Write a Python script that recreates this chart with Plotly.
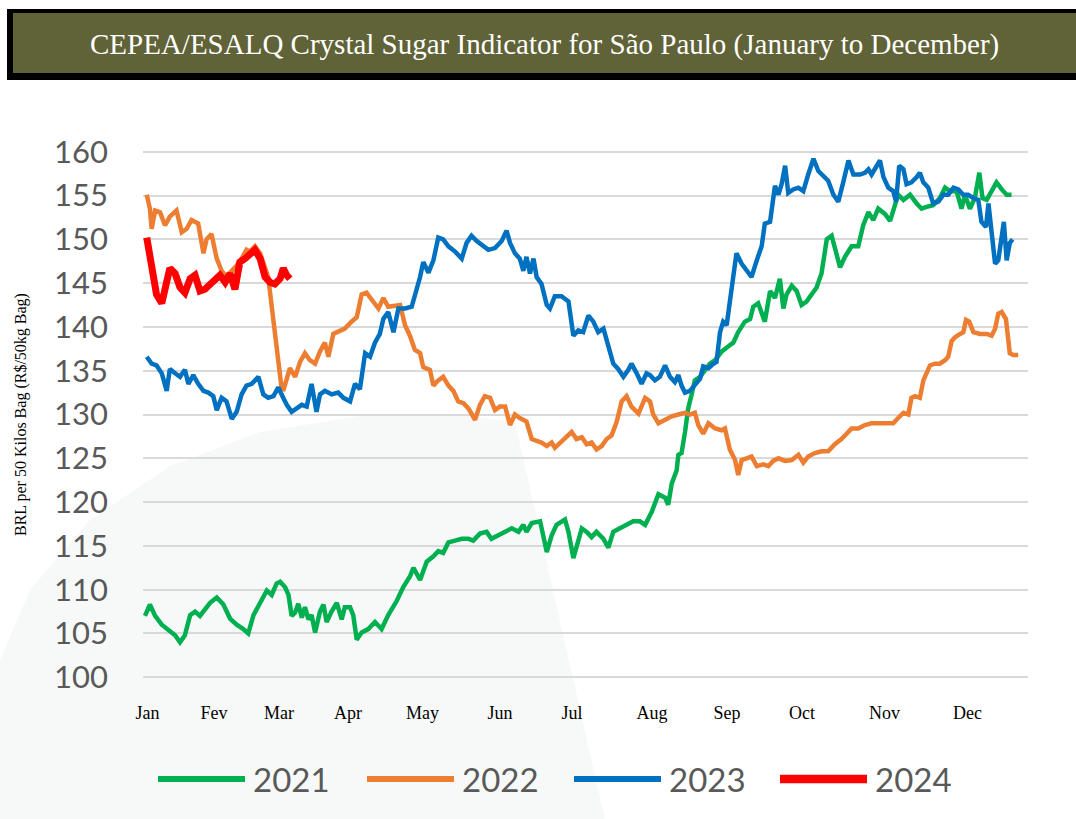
import plotly.graph_objects as go

# CEPEA/ESALQ crystal sugar indicator, Sao Paulo
# x = trading day of the year (0 = first January session), y = BRL per 50 kg bag

x_2021 = [0.0, 1.4, 2.9, 4.8, 6.7, 8.6, 10.0, 11.4, 12.9, 14.3,
          15.7, 17.1, 18.6, 20.5, 22.4, 24.3, 26.2, 28.1, 29.5, 31.0,
          32.9, 34.8, 36.2, 37.6, 38.6, 40.0, 41.0, 41.9, 42.9, 43.8,
          44.8, 45.7, 46.7, 47.6, 48.6, 50.0, 51.0, 51.9, 53.3, 54.8,
          56.2, 57.1, 58.6, 59.5, 60.5, 61.9, 63.8, 65.7, 67.6, 69.5,
          71.9, 73.8, 75.7, 76.7, 78.6, 80.5, 82.4, 83.8, 85.2, 86.7,
          88.6, 90.5, 92.4, 93.8, 95.7, 97.6, 99.0, 101.0, 102.9, 104.8,
          106.7, 108.1, 109.0, 110.5, 112.9, 114.8, 116.2, 117.6, 120.0, 121.0,
          122.4, 123.3, 124.8, 126.2, 127.6, 129.0, 131.0, 132.4, 133.8, 135.7,
          137.6, 139.5, 141.4, 142.9, 144.8, 146.7, 148.6, 149.5, 150.5, 151.9,
          152.4, 153.3, 154.3, 155.2, 156.2, 157.1, 158.6, 160.0, 161.4, 162.9,
          164.8, 166.7, 168.1, 169.5, 171.4, 172.9, 173.8, 175.2, 176.2, 177.1,
          178.6, 180.0, 181.4, 182.4, 183.3, 184.8, 186.2, 187.6, 189.0, 190.5,
          191.9, 193.3, 194.8, 196.2, 197.6, 198.6, 200.0, 201.9, 203.8, 205.2,
          206.7, 208.1, 209.5, 211.4, 212.9, 214.3, 215.2, 216.7, 218.6, 220.5,
          221.9, 223.3, 225.2, 227.1, 228.6, 230.0, 231.9, 233.3, 234.3, 235.7,
          237.1, 238.4, 239.3, 240.5, 241.9, 243.3, 244.8, 246.2, 247.6]
y_2021 = [107.0, 108.3, 107.0, 106.0, 105.4, 104.8, 104.0, 104.8, 107.1, 107.5,
          107.0, 107.7, 108.5, 109.1, 108.3, 106.7, 106.0, 105.5, 105.0, 107.1,
          108.6, 109.9, 109.4, 110.7, 110.9, 110.3, 109.4, 107.0, 107.4, 108.4,
          106.8, 108.0, 106.6, 107.1, 105.1, 107.5, 108.3, 106.3, 107.5, 108.5,
          106.6, 108.0, 108.0, 107.1, 104.3, 105.1, 105.5, 106.3, 105.5, 107.1,
          108.7, 110.3, 111.5, 112.5, 111.1, 113.2, 113.8, 114.4, 114.2, 115.4,
          115.6, 115.8, 115.8, 115.6, 116.4, 116.6, 115.8, 116.2, 116.6, 117.0,
          116.6, 117.4, 116.6, 117.6, 117.8, 114.3, 116.2, 117.4, 118.0, 116.6,
          113.6, 115.0, 117.0, 116.6, 116.0, 116.6, 115.8, 114.8, 116.6, 117.0,
          117.4, 117.8, 117.8, 117.4, 118.9, 120.9, 120.5, 119.7, 122.1, 123.6,
          125.4, 125.6, 128.0, 130.7, 132.3, 133.9, 134.3, 135.1, 135.8, 136.2,
          137.2, 137.8, 138.2, 139.4, 140.6, 140.9, 142.3, 142.7, 141.7, 140.6,
          144.1, 143.3, 145.5, 142.1, 143.7, 144.7, 144.1, 142.5, 142.9, 143.7,
          144.5, 146.1, 150.0, 150.4, 148.4, 146.8, 148.0, 149.2, 149.2, 151.6,
          153.1, 152.2, 153.5, 152.9, 152.1, 153.9, 155.1, 154.5, 155.1, 154.1,
          153.5, 153.7, 153.9, 154.7, 155.9, 155.5, 155.5, 153.5, 155.1, 153.5,
          154.7, 157.6, 154.7, 154.5, 155.5, 156.5, 155.7, 155.1, 155.1]

x_2022 = [0.5, 1.4, 1.9, 2.9, 4.3, 5.7, 7.1, 9.0, 10.5, 11.9,
          13.3, 15.2, 16.7, 17.6, 19.0, 20.5, 21.9, 23.3, 24.8, 26.2,
          27.6, 29.0, 30.0, 31.4, 32.9, 34.3, 35.2, 37.1, 39.0, 39.5,
          40.5, 41.4, 42.9, 44.3, 45.7, 47.1, 48.6, 50.0, 51.4, 52.4,
          53.8, 55.2, 57.1, 59.0, 60.5, 61.9, 63.3, 64.8, 66.7, 68.1,
          69.5, 72.9, 74.3, 75.7, 77.1, 78.6, 79.5, 81.4, 82.4, 83.8,
          85.2, 86.7, 88.1, 89.5, 91.0, 92.4, 94.3, 95.7, 97.1, 98.6,
          100.0, 101.4, 102.9, 104.3, 105.7, 107.1, 109.0, 110.5, 111.9, 113.3,
          114.8, 116.2, 117.1, 118.6, 120.0, 121.9, 123.3, 124.8, 126.2, 127.6,
          129.0, 130.5, 131.9, 133.3, 134.8, 136.2, 137.6, 139.0, 141.0, 142.9,
          144.3, 145.2, 146.7, 148.6, 150.5, 152.4, 154.3, 155.7, 157.1, 158.1,
          159.5, 161.0, 162.9, 164.8, 165.7, 167.1, 168.6, 169.5, 170.5, 171.9,
          173.3, 174.8, 176.7, 178.1, 179.5, 181.0, 182.9, 184.8, 186.7, 188.1,
          189.5, 191.4, 193.3, 195.2, 197.1, 199.0, 200.5, 201.9, 203.8, 205.7,
          207.6, 209.5, 211.9, 213.8, 215.2, 216.7, 218.1, 219.0, 220.0, 221.4,
          222.4, 223.3, 224.3, 225.7, 227.1, 228.6, 229.5, 230.5, 231.4, 232.9,
          233.8, 234.6, 235.5, 236.7, 238.6, 240.5, 241.9, 242.9, 243.8, 244.8,
          246.0, 247.1, 248.1, 249.5]
y_2022 = [155.1, 153.5, 151.2, 153.3, 153.1, 151.6, 152.6, 153.3, 150.8, 151.2,
          152.2, 151.8, 148.4, 150.0, 150.6, 147.8, 146.4, 145.7, 146.4, 147.0,
          147.8, 148.8, 148.6, 149.2, 148.4, 146.8, 145.7, 139.4, 133.1, 132.7,
          133.9, 135.3, 134.3, 136.0, 137.0, 136.2, 135.8, 137.2, 138.2, 136.6,
          139.2, 139.4, 139.8, 140.6, 141.1, 143.7, 143.9, 143.1, 142.1, 143.3,
          142.3, 142.5, 140.2, 139.0, 137.4, 137.0, 135.4, 135.1, 133.3, 133.9,
          134.3, 133.3, 132.7, 131.5, 131.3, 130.7, 129.4, 131.1, 132.1, 131.9,
          130.5, 130.9, 130.9, 128.8, 130.0, 129.6, 129.2, 127.2, 127.0, 126.8,
          126.4, 126.8, 126.2, 126.8, 127.4, 128.0, 127.2, 127.4, 126.6, 126.8,
          126.0, 126.4, 127.2, 127.6, 129.2, 131.5, 132.1, 130.9, 130.1, 131.9,
          131.5, 130.0, 129.0, 129.4, 129.8, 130.0, 130.2, 130.0, 130.2, 128.8,
          127.8, 129.0, 128.4, 128.2, 128.4, 126.0, 124.8, 123.1, 124.8, 125.0,
          125.2, 124.1, 124.3, 124.1, 124.7, 125.0, 124.7, 124.8, 125.4, 124.5,
          125.2, 125.6, 125.8, 125.8, 126.6, 127.2, 127.8, 128.4, 128.4, 128.8,
          129.0, 129.0, 129.0, 129.0, 129.6, 130.2, 130.0, 131.9, 132.1, 131.9,
          133.9, 134.7, 135.6, 135.8, 135.8, 136.2, 136.6, 138.4, 138.8, 139.2,
          139.4, 140.8, 140.6, 139.4, 139.2, 139.2, 139.0, 139.8, 141.5, 141.7,
          140.9, 137.0, 136.8, 136.8]

x_2023 = [0.5, 1.9, 3.3, 4.8, 6.2, 7.1, 8.6, 10.0, 11.4, 12.4,
          13.8, 15.2, 16.7, 18.1, 19.5, 20.5, 21.9, 23.3, 24.8, 26.2,
          27.6, 29.0, 30.5, 32.4, 33.8, 35.2, 36.7, 38.1, 39.0, 40.5,
          41.9, 43.3, 44.8, 46.2, 47.6, 49.0, 50.0, 51.4, 53.3, 55.2,
          56.7, 58.6, 60.0, 61.4, 62.9, 64.3, 65.7, 67.1, 68.1, 69.5,
          71.0, 72.4, 74.3, 76.2, 77.6, 78.6, 79.5, 81.0, 82.4, 83.8,
          85.2, 86.7, 88.6, 90.5, 91.9, 93.3, 94.8, 96.2, 98.1, 100.0,
          101.9, 103.3, 104.3, 105.7, 107.1, 108.1, 109.0, 110.0, 111.0, 111.9,
          113.3, 114.8, 115.7, 117.1, 119.0, 121.0, 122.4, 123.8, 125.2, 126.7,
          128.1, 129.5, 131.0, 132.4, 133.8, 135.2, 136.7, 138.1, 139.0, 140.5,
          141.9, 143.3, 144.3, 145.7, 147.1, 148.6, 150.0, 151.4, 152.4, 153.3,
          154.3, 155.7, 157.1, 158.6, 159.5, 161.0, 162.4, 163.3, 164.3, 165.2,
          166.2, 167.6, 169.0, 170.5, 171.9, 173.3, 174.8, 176.2, 177.1, 178.6,
          180.0, 181.0, 181.9, 182.9, 183.8, 185.2, 186.7, 188.1, 189.5, 191.0,
          192.4, 193.8, 195.2, 196.7, 198.1, 199.5, 201.0, 202.4, 204.3, 205.7,
          206.7, 207.6, 209.0, 210.0, 211.0, 212.4, 213.8, 214.6, 215.5, 216.7,
          217.6, 219.0, 220.5, 221.4, 222.4, 223.8, 225.2, 226.7, 228.1, 229.5,
          231.0, 232.4, 233.8, 235.2, 236.7, 238.1, 239.0, 240.3, 241.0, 241.9,
          242.9, 243.8, 244.8, 245.4, 246.2, 247.1, 247.9]
y_2023 = [136.6, 135.8, 135.6, 134.7, 132.7, 135.2, 134.7, 134.3, 135.1, 133.5,
          134.5, 133.5, 132.7, 132.5, 132.1, 130.5, 131.9, 131.5, 129.5, 130.3,
          132.3, 133.3, 133.5, 134.3, 132.3, 131.9, 132.1, 133.1, 132.3, 131.1,
          130.3, 130.7, 131.1, 130.9, 133.5, 130.3, 132.3, 132.7, 132.3, 132.5,
          131.9, 131.5, 133.5, 132.9, 137.0, 136.6, 138.2, 139.2, 140.9, 141.7,
          139.4, 142.1, 142.1, 142.3, 144.1, 145.7, 147.4, 146.2, 147.6, 150.2,
          150.0, 149.2, 148.6, 147.8, 149.6, 150.4, 149.8, 149.4, 148.8, 149.0,
          149.8, 151.0, 149.6, 148.4, 147.8, 146.4, 148.0, 146.1, 147.8, 145.7,
          144.9, 142.5, 142.1, 143.5, 143.5, 142.9, 139.0, 139.6, 139.4, 141.3,
          140.6, 139.4, 139.8, 137.8, 135.8, 135.2, 134.3, 135.1, 135.8, 134.7,
          133.5, 134.7, 134.5, 133.9, 134.3, 135.6, 134.3, 133.7, 134.5, 133.3,
          132.5, 132.7, 133.3, 134.1, 135.5, 135.3, 135.8, 136.0, 139.4, 140.6,
          140.2, 144.5, 148.4, 147.2, 146.4, 145.7, 147.6, 149.2, 151.8, 152.0,
          156.1, 155.1, 156.3, 158.4, 155.3, 155.7, 155.9, 155.5, 157.4, 159.2,
          157.8, 157.2, 156.7, 155.1, 154.3, 156.5, 159.0, 157.4, 157.4, 157.6,
          158.0, 157.4, 158.4, 159.0, 157.1, 155.9, 155.5, 154.3, 158.4, 158.0,
          156.3, 156.5, 157.1, 157.6, 156.5, 155.9, 154.1, 154.3, 155.1, 155.1,
          155.9, 155.7, 155.1, 155.1, 154.7, 154.5, 152.0, 151.4, 154.1, 150.4,
          147.2, 147.6, 150.8, 152.0, 147.6, 149.6, 150.0]

x_2024 = [0.5, 1.4, 2.4, 3.3, 4.8, 6.2, 7.1, 8.6, 10.0, 11.4,
          12.9, 14.3, 15.7, 17.1, 18.6, 20.0, 21.4, 22.9, 24.3, 25.7,
          27.1, 28.6, 30.0, 31.4, 32.9, 34.3, 35.7, 37.1, 38.6, 39.5,
          40.5, 41.4]
y_2024 = [150.2, 148.4, 146.4, 143.7, 142.7, 145.7, 146.7, 146.1, 144.5, 143.9,
          145.5, 145.9, 144.1, 144.3, 144.9, 145.5, 145.9, 145.1, 146.1, 144.3,
          147.4, 147.8, 148.4, 148.8, 147.8, 145.7, 145.1, 144.9, 145.5, 146.7,
          145.9, 145.5]

# month labels and the trading day each one sits on
month_labels = ["Jan", "Fev", "Mar", "Apr", "May", "Jun",
                "Jul", "Aug", "Sep", "Oct", "Nov", "Dec"]
month_days = [0.7, 19.7, 38.3, 58.0, 79.3, 101.4, 122.0, 144.9, 166.3, 187.7, 211.3, 235.0]

years = ["2021", "2022", "2023", "2024"]
colors = ["#00B050", "#ED7D31", "#0070C0", "#FF0000"]
widths = [4.5, 4.5, 4.5, 7]
xs = [x_2021, x_2022, x_2023, x_2024]
ys = [y_2021, y_2022, y_2023, y_2024]

for a, b in zip(xs, ys):
    assert len(a) == len(b), (len(a), len(b))

# page geometry (pixels) for the decorations around the plot
W, H = 1076, 819
L, R, T, B = 143, 1028, 150, 679


def px(x):
    return (x - L) / (R - L)


def py(y):
    return (B - y) / (B - T)


fig = go.Figure()

for name, color, w, x, y in zip(years, colors, widths, xs, ys):
    fig.add_trace(go.Scatter(x=x, y=y, mode="lines", name=name,
                             line=dict(color=color, width=w),
                             showlegend=False, hoverinfo="x+y+name"))

shapes = []
# faint watermark behind the plot
wm = [(0, 819), (0, 660), (30, 590), (90, 520), (170, 466), (260, 432),
      (360, 416), (450, 414), (515, 422), (605, 819)]
path = "M " + " L ".join(f"{px(a):.4f},{py(b):.4f}" for a, b in wm) + " Z"
shapes.append(dict(type="path", path=path, xref="paper", yref="paper",
                   fillcolor="#F7F9F8", line=dict(width=0), layer="below"))

# title banner
shapes.append(dict(type="rect", xref="paper", yref="paper",
                   x0=px(7), x1=px(1085), y0=py(80), y1=py(9),
                   fillcolor="#000000", line=dict(width=0)))
shapes.append(dict(type="rect", xref="paper", yref="paper",
                   x0=px(13), x1=px(1085), y0=py(73), y1=py(13),
                   fillcolor="#606237", line=dict(width=0)))

annotations = [
    dict(text="CEPEA/ESALQ Crystal Sugar Indicator for São Paulo (January to December)",
         xref="paper", yref="paper", x=px(544), y=py(44),
         xanchor="center", yanchor="middle", showarrow=False,
         font=dict(family="Liberation Serif", size=29, color="white")),
    dict(text="BRL per 50 Kilos Bag (R$/50kg Bag)", textangle=-90,
         xref="paper", yref="paper", x=px(21), y=py(415),
         xanchor="center", yanchor="middle", showarrow=False,
         font=dict(family="Liberation Serif", size=16, color="black")),
]

# legend drawn by hand so the sample lines are as long as in the original
leg_line_x = [158, 367, 574, 780]
for name, color, w, x0 in zip(years, colors, widths, leg_line_x):
    shapes.append(dict(type="line", xref="paper", yref="paper",
                       x0=px(x0), x1=px(x0 + 87), y0=py(779), y1=py(779),
                       line=dict(color=color, width=w + 1.5)))
    annotations.append(dict(text=name, xref="paper", yref="paper",
                            x=px(x0 + 93), y=py(779),
                            xanchor="left", yanchor="middle", showarrow=False,
                            font=dict(family="Lato", size=33, color="#595959")))

fig.update_layout(
    width=W, height=H,
    margin=dict(l=L, r=W - R, t=T, b=H - B),
    paper_bgcolor="white", plot_bgcolor="rgba(0,0,0,0)",
    shapes=shapes, annotations=annotations,
    xaxis=dict(range=[-0.57, 252.3], tickvals=month_days, ticktext=month_labels,
               showgrid=False, zeroline=False, showline=False, ticks="",
               ticklabelstandoff=21,
               tickfont=dict(family="Liberation Serif", size=18, color="black")),
    yaxis=dict(range=[99.8, 160.2], tickvals=list(range(100, 161, 5)),
               showgrid=True, gridcolor="#D9D9D9", gridwidth=2,
               zeroline=False, showline=False, ticks="",
               ticklabelstandoff=34,
               tickfont=dict(family="Lato", size=31, color="#595959")),
)

# the page body has a default 8px margin; drop it so the figure sits at 0,0
fig.write_html("out.html", config={"displayModeBar": False},
               post_script="document.body.style.margin='0';"
                           "document.body.style.overflow='hidden';")
